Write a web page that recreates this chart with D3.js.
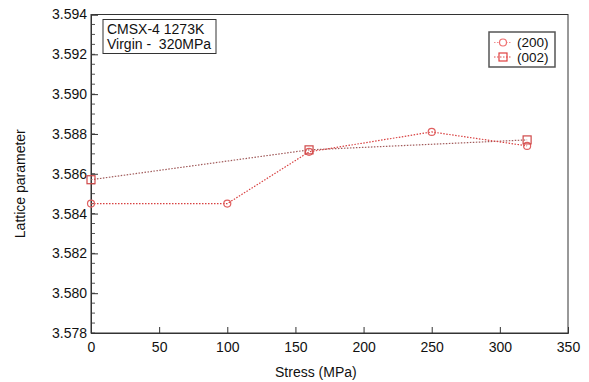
<!DOCTYPE html>
<html>
<head>
<meta charset="utf-8">
<script src="https://cdn.jsdelivr.net/npm/d3@7"></script>
<style>
    body { margin: 0; background: #fff; }
    text { font-family: "Liberation Sans", Arial, sans-serif; fill: #111; }
</style>
</head>
<body>
<div id="chart-area"></div>
<script>
// Data
let stress200 = [0, 100, 160, 250, 320];
let lattice200 = [3.5845, 3.5845, 3.5871, 3.5881, 3.5874];
let stress002 = [0, 160, 320];
let lattice002 = [3.5857, 3.5872, 3.5877];
let xTicks = [0, 50, 100, 150, 200, 250, 300, 350];
let yTicks = [3.578, 3.580, 3.582, 3.584, 3.586, 3.588, 3.590, 3.592, 3.594];

let margin = {left: 91, right: 21, top: 14.5, bottom: 49};

let width = 589 - margin.left - margin.right,
    height = 382 - margin.top - margin.bottom;

let svg = d3.select("#chart-area")
    .append("svg")
    .attr("width", 589)
    .attr("height", 382)
    .append("g")
    .attr("transform", "translate(" + margin.left + ", " + margin.top + ")");

// Scales
let x = d3.scaleLinear()
    .domain([0, 350])
    .range([0, width]);

let y = d3.scaleLinear()
    .domain([3.578, 3.594])
    .range([height, 0]);

// Frame
svg.append("rect")
    .attr("width", width)
    .attr("height", height)
    .attr("fill", "none")
    .attr("stroke", "#333")
    .attr("stroke-width", 1);

// X Axis (ticks point inward)
let xAxisCall = d3.axisBottom(x)
    .tickValues(xTicks)
    .tickSize(-6)
    .tickPadding(9)
    .tickFormat(d3.format("d"));
let xAxis = svg.append("g")
    .attr("class", "x axis")
    .attr("transform", "translate(0," + height + ")")
    .call(xAxisCall);
xAxis.select(".domain").attr("stroke", "#333");
xAxis.selectAll("line").attr("stroke", "#333");
xAxis.selectAll("text")
    .attr("font-size", "14px")
    .attr("font-family", "Liberation Sans, Arial, sans-serif")
    .attr("fill", "#111");

// Y minor ticks
let minor = d3.range(0, 33).map(function (i) { return 3.578 + i * 0.0005; });
svg.append("g")
    .attr("class", "y minor")
    .selectAll("line")
    .data(minor)
    .enter()
    .append("line")
    .attr("x1", 0)
    .attr("x2", 4)
    .attr("y1", function (d) { return y(d); })
    .attr("y2", function (d) { return y(d); })
    .attr("stroke", "#555");

// Y Axis
let yAxisCall = d3.axisLeft(y)
    .tickValues(yTicks)
    .tickSize(-7)
    .tickPadding(4)
    .tickFormat(d3.format(".3f"));
let yAxis = svg.append("g")
    .attr("class", "y axis")
    .call(yAxisCall);
yAxis.select(".domain").attr("stroke", "#333");
yAxis.selectAll("line").attr("stroke", "#333");
yAxis.selectAll("text")
    .attr("font-size", "14px")
    .attr("font-family", "Liberation Sans, Arial, sans-serif")
    .attr("fill", "#111");

// X Label
svg.append("text")
    .attr("x", x(165))
    .attr("y", height + 44)
    .attr("font-size", "14px")
    .attr("text-anchor", "middle")
    .text("Stress (MPa)");

// Y Label
svg.append("text")
    .attr("y", -66)
    .attr("x", -y(3.5855))
    .attr("font-size", "14px")
    .attr("text-anchor", "middle")
    .attr("transform", "rotate(-90)")
    .text("Lattice parameter");

// Lines
let line = d3.line()
    .x(function (d) { return x(d[0]); })
    .y(function (d) { return y(d[1]); });

let pts200 = stress200.map(function (s, i) { return [s, lattice200[i]]; });
let pts002 = stress002.map(function (s, i) { return [s, lattice002[i]]; });

svg.append("path")
    .datum(pts002)
    .attr("d", line)
    .attr("fill", "none")
    .attr("stroke", "#a05a5a")
    .attr("stroke-width", 1.2)
    .attr("stroke-dasharray", "1.5,1.5");

svg.append("path")
    .datum(pts200)
    .attr("d", line)
    .attr("fill", "none")
    .attr("stroke", "#d84040")
    .attr("stroke-width", 1.2)
    .attr("stroke-dasharray", "1.5,1.5");

// Markers
svg.selectAll("circle.m200")
    .data(pts200)
    .enter()
    .append("circle")
    .attr("class", "m200")
    .attr("cx", function (d) { return x(d[0]); })
    .attr("cy", function (d) { return y(d[1]); })
    .attr("r", 3.5)
    .attr("fill", "none")
    .attr("stroke", "#e06060")
    .attr("stroke-width", 1.2);

svg.selectAll("rect.m002")
    .data(pts002)
    .enter()
    .append("rect")
    .attr("class", "m002")
    .attr("x", function (d) { return x(d[0]) - 4; })
    .attr("y", function (d) { return y(d[1]) - 4; })
    .attr("width", 8)
    .attr("height", 8)
    .attr("fill", "none")
    .attr("stroke", "#d04848")
    .attr("stroke-width", 1.2);

// Annotation box
let note = svg.append("g").attr("transform", "translate(12, 5)");
note.append("rect")
    .attr("width", 113)
    .attr("height", 34)
    .attr("fill", "#fff")
    .attr("stroke", "#333");
note.append("text").attr("x", 4).attr("y", 14).attr("font-size", "14px").text("CMSX-4 1273K");
note.append("text").attr("x", 4).attr("y", 29).attr("font-size", "14px")
    .attr("xml:space", "preserve").style("white-space", "pre").text("Virgin -  320MPa");

// Legend
let legend = svg.append("g").attr("transform", "translate(398, 17.5)");
legend.append("rect")
    .attr("width", 66)
    .attr("height", 35)
    .attr("fill", "#fff")
    .attr("stroke", "#555")
    .attr("stroke-width", 1.5);
let items = [
    {label: "(200)", shape: "circle", line: "#f09090", mark: "#f07070"},
    {label: "(002)", shape: "square", line: "#e05050", mark: "#e04040"}
];
items.forEach(function (d, i) {
    let g = legend.append("g").attr("transform", "translate(0," + (10.5 + i * 14.5) + ")");
    g.append("line")
        .attr("x1", 5).attr("x2", 23)
        .attr("stroke", d.line)
        .attr("stroke-width", 1.2)
        .attr("stroke-dasharray", "1.5,1.5");
    if (d.shape === "circle") {
        g.append("circle").attr("cx", 14).attr("r", 3.5)
            .attr("fill", "#fff").attr("stroke", d.mark).attr("stroke-width", 1.2);
    } else {
        g.append("rect").attr("x", 10).attr("y", -4).attr("width", 8).attr("height", 8)
            .attr("fill", "none").attr("stroke", d.mark).attr("stroke-width", 1.2);
    }
    g.append("text").attr("x", 28).attr("y", 4.5).attr("font-size", "13.5px").text(d.label);
});
</script>
</body>
</html>
